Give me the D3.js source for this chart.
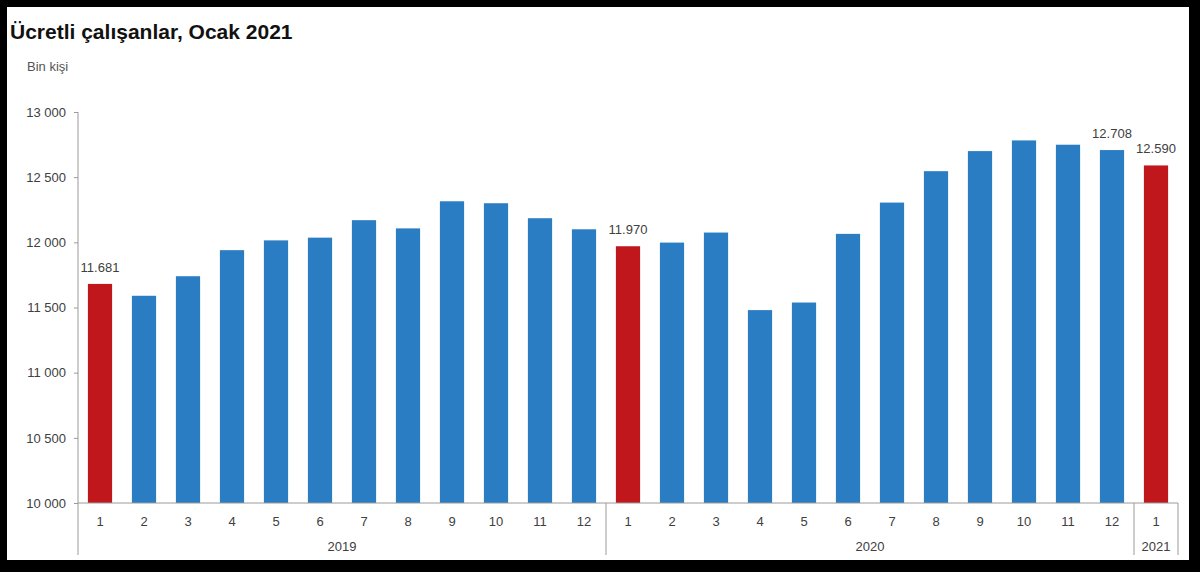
<!DOCTYPE html>
<html><head><meta charset="utf-8">
<script src="https://cdnjs.cloudflare.com/ajax/libs/d3/7.8.5/d3.min.js"></script>
<style>html,body{margin:0;padding:0;background:#000;}svg{display:block;font-family:"Liberation Sans",Arial,sans-serif;}</style>
</head><body>
<svg id="c" width="1200" height="572"></svg>
<script>
const title = "Ücretli çalışanlar, Ocak 2021";
const unitLabel = "Bin kişi";
const years = ["2019", "2020", "2021"];
const months2019 = ["1","2","3","4","5","6","7","8","9","10","11","12"];
const months2020 = ["1","2","3","4","5","6","7","8","9","10","11","12"];
const months2021 = ["1"];
const values2019 = [11681, 11590, 11740, 11940, 12015, 12036, 12170, 12107, 12315, 12300, 12185, 12100];
const values2020 = [11970, 11998, 12075, 11480, 11538, 12065, 12305, 12546, 12700, 12782, 12749, 12708];
const values2021 = [12590];
const yTicks = [10000, 10500, 11000, 11500, 12000, 12500, 13000];
const labelled = ["2019-1", "2020-1", "2020-12", "2021-1"];
const highlight = ["2019-1", "2020-1", "2021-1"];

const data = [];
[[years[0], months2019, values2019],[years[1], months2020, values2020],[years[2], months2021, values2021]].forEach(([yr, ms, vs]) => {
  ms.forEach((m, i) => data.push({year: yr, month: m, key: yr + "-" + m, value: vs[i]}));
});

const svg = d3.select("#c");
svg.append("rect").attr("x", 7).attr("y", 7).attr("width", 1182).attr("height", 553).attr("fill", "#fff");

const pLeft = 78, pRight = 1178, pTop = 112, pBottom = 503;
const x = d3.scaleBand().domain(data.map(d => d.key)).range([pLeft, pRight]).paddingInner(0.45).paddingOuter(0.225);
const y = d3.scaleLinear().domain([10000, 13000]).range([pBottom, pTop]);

const fmtTick = v => d3.format(",")(v).replace(",", " ");
const fmtLab = v => d3.format(",")(v).replace(",", ".");

// y axis
const yAxis = d3.axisLeft(y).tickValues(yTicks).tickFormat(fmtTick).tickSize(4).tickPadding(8);
const yg = svg.append("g").attr("transform", `translate(${pLeft},0)`).call(yAxis);
yg.select(".domain").remove();
yg.selectAll(".tick line").attr("stroke", "#9a9a9a");
yg.selectAll(".tick text").attr("fill", "#404040").style("font-size", "13px").style("font-family", "Liberation Sans, Arial, sans-serif");
svg.append("line").attr("x1", pLeft).attr("x2", pLeft).attr("y1", pTop).attr("y2", 555).attr("stroke", "#9a9a9a");

// bars
svg.append("g").selectAll("rect").data(data).join("rect")
  .attr("x", d => x(d.key)).attr("width", x.bandwidth())
  .attr("y", d => y(d.value)).attr("height", d => y(10000) - y(d.value))
  .attr("fill", d => highlight.includes(d.key) ? "#c0171c" : "#2a7dc3");

// baseline
svg.append("line").attr("x1", pLeft).attr("x2", pRight).attr("y1", pBottom).attr("y2", pBottom).attr("stroke", "#9a9a9a");

// value labels
svg.append("g").selectAll("text").data(data.filter(d => labelled.includes(d.key))).join("text")
  .attr("x", d => x(d.key) + x.bandwidth() / 2).attr("y", d => y(d.value) - 12)
  .attr("text-anchor", "middle").attr("fill", "#404040").style("font-size", "13px")
  .text(d => fmtLab(d.value));

// month labels
svg.append("g").selectAll("text").data(data).join("text")
  .attr("x", d => x(d.key) + x.bandwidth() / 2).attr("y", 526)
  .attr("text-anchor", "middle").attr("fill", "#404040").style("font-size", "13px")
  .text(d => d.month);

// year groups
const step = x.step();
const groups = years.map(yr => {
  const ks = data.filter(d => d.year === yr);
  const x0 = x(ks[0].key) - step * x.paddingInner() / 2;
  const x1 = x(ks[ks.length - 1].key) + x.bandwidth() + step * x.paddingInner() / 2;
  return {yr, x0, x1};
});
svg.append("g").selectAll("line").data(groups).join("line")
  .attr("x1", d => d.x1).attr("x2", d => d.x1).attr("y1", pBottom).attr("y2", 555)
  .attr("stroke", "#9a9a9a");
svg.append("g").selectAll("text").data(groups).join("text")
  .attr("x", d => (d.x0 + d.x1) / 2).attr("y", 551)
  .attr("text-anchor", "middle").attr("fill", "#404040").style("font-size", "13px")
  .text(d => d.yr);

// titles
svg.append("text").attr("x", 10).attr("y", 39).attr("fill", "#111").style("font-size", "21px").style("font-weight", "bold").text(title);
svg.append("text").attr("x", 27).attr("y", 71).attr("fill", "#555").style("font-size", "13px").text(unitLabel);
</script>
</body></html>
